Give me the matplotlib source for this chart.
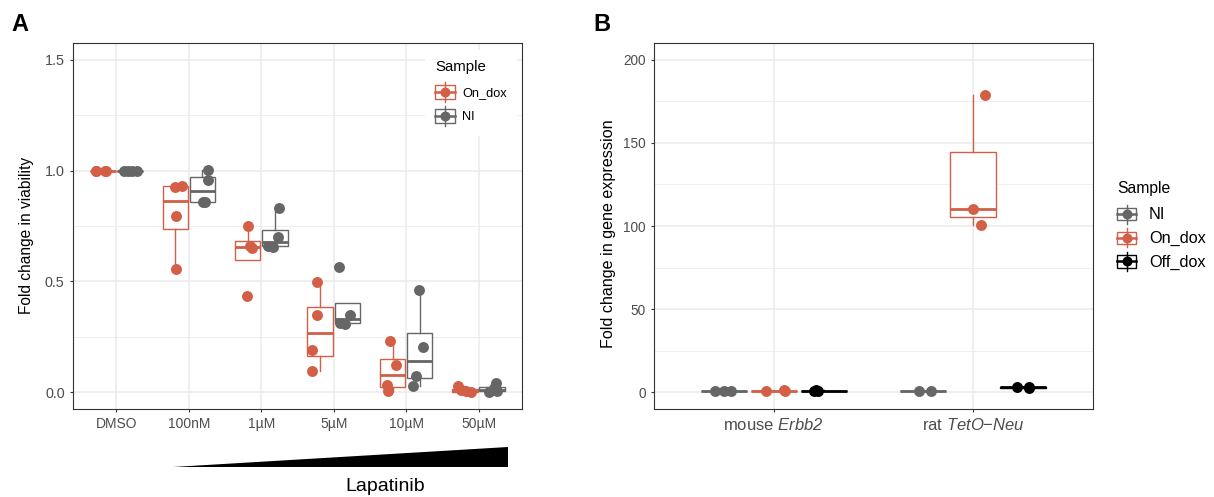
import matplotlib
matplotlib.use('Agg')
import matplotlib.pyplot as plt
import numpy as np
from matplotlib.legend_handler import HandlerBase
from matplotlib.patches import Rectangle, Polygon
from matplotlib.lines import Line2D
from matplotlib.ticker import MultipleLocator

plt.rcParams['font.family'] = ['Liberation Sans', 'DejaVu Sans']
plt.rcParams['mathtext.fontset'] = 'custom'
plt.rcParams['mathtext.rm'] = 'Liberation Sans:italic'
plt.rcParams['mathtext.it'] = 'Liberation Sans:italic'

# ---------------- data ----------------
doses = ['DMSO', '100nM', '1µM', '5µM', '10µM', '50µM']
viab_on_dox = [[1.0, 1.0, 1.0, 1.0],
               [0.557, 0.795, 0.928, 0.932],
               [0.434, 0.650, 0.660, 0.750],
               [0.095, 0.189, 0.348, 0.497],
               [0.006, 0.033, 0.125, 0.232],
               [0.000, 0.004, 0.012, 0.028]]
viab_ni = [[1.0, 1.0, 1.0, 1.0],
           [0.858, 0.858, 0.958, 1.003],
           [0.655, 0.660, 0.700, 0.832],
           [0.310, 0.312, 0.348, 0.564],
           [0.028, 0.075, 0.204, 0.461],
           [0.003, 0.005, 0.020, 0.040]]

genes = ['mouse $\\mathit{Erbb2}$', 'rat $\\mathit{TetO}$\u2212$\\mathit{Neu}$']
expr_ni = [[0.9, 1.0, 1.1], [0.8, 1.1]]
expr_on_dox = [[0.8, 1.0, 1.2], [100.5, 110.2, 178.8]]
expr_off_dox = [[0.7, 1.0, 1.2], [2.4, 3.0, 3.4]]

# ---------------- style / layout ----------------
RED = '#D35F46'
GREY = '#666666'
BLACK = '#000000'

# horizontal jitter of points (category units), style only
jit_a_on = [[-0.10, -0.09, 0.03, 0.04], [0.01, 0.01, 0.0, 0.09], [-0.01, 0.06, 0.03, 0.0],
            [-0.11, -0.11, -0.05, -0.05], [-0.06, -0.08, 0.05, -0.03], [0.08, 0.02, -0.05, -0.10]]
jit_a_ni = [[-0.09, -0.03, 0.03, 0.10], [0.01, 0.04, 0.08, 0.08], [-0.03, -0.10, 0.04, 0.06],
            [-0.03, -0.10, 0.04, -0.11], [-0.09, -0.05, 0.05, -0.01], [-0.04, 0.07, 0.03, 0.06]]
jit_b_ni = [[-0.045, 0.0, 0.035], [-0.02, 0.04]]
jit_b_on = [[-0.037, 0.055, 0.05], [0.04, 0.0, 0.057]]
jit_b_off = [[-0.05, -0.03, -0.04], [0.03, 0.03, -0.03]]

W, H = 1214, 497
fig = plt.figure(figsize=(W / 100, H / 100), dpi=100)
ax1 = fig.add_axes([73 / W, 1 - 409 / H, 449 / W, 366 / H])
ax2 = fig.add_axes([654 / W, 1 - 409 / H, 439 / W, 366 / H])

PT_S = 62


def draw_group(ax, pos, values, jitter, color, width):
    ax.boxplot(values, positions=[pos], widths=width, whis=1.5, showfliers=False,
               showcaps=False, patch_artist=True, manage_ticks=False, zorder=2,
               boxprops=dict(facecolor='white', edgecolor=color, linewidth=1.0),
               whiskerprops=dict(color=color, linewidth=1.0),
               medianprops=dict(color=color, linewidth=2.0))
    ax.scatter(pos + np.asarray(jitter), values, s=PT_S, color=color, zorder=3, linewidths=0)


def style_axes(ax, ytick_size, xtick_size):
    for sp in ax.spines.values():
        sp.set_color('#333333')
        sp.set_linewidth(0.8)
        sp.set_zorder(6)
    ax.set_axisbelow(True)
    ax.grid(which='major', color='#EBEBEB', lw=1.1)
    ax.grid(which='minor', axis='y', color='#EBEBEB', lw=0.55)
    ax.tick_params(which='major', length=2.5, width=0.8, color='#333333', labelcolor='#4D4D4D')
    ax.tick_params(axis='y', labelsize=ytick_size, pad=3.5)
    ax.tick_params(axis='x', labelsize=xtick_size, pad=3.5)
    ax.tick_params(which='minor', length=0)


# ---------------- Panel A ----------------
xa = np.arange(1, len(doses) + 1)
DA = 0.1875
for i in range(len(doses)):
    draw_group(ax1, xa[i] - DA, viab_on_dox[i], jit_a_on[i], RED, 0.35)
    draw_group(ax1, xa[i] + DA, viab_ni[i], jit_a_ni[i], GREY, 0.35)

ax1.set_xlim(0.4, len(doses) + 0.6)
ax1.set_ylim(-0.075, 1.575)
ax1.set_xticks(xa)
ax1.set_xticklabels(doses)
ax1.set_yticks([0, 0.5, 1.0, 1.5])
ax1.set_yticklabels(['0.0', '0.5', '1.0', '1.5'])
ax1.yaxis.set_minor_locator(MultipleLocator(0.25))
style_axes(ax1, 10.4, 10)
ax1.set_ylabel('Fold change in viability', fontsize=11.2)
ax1.yaxis.set_label_coords(-0.087, 0.475)

# ---------------- Panel B ----------------
xb = np.arange(1, len(genes) + 1)
DB = 0.25
for i in range(len(genes)):
    draw_group(ax2, xb[i] - DB, expr_ni[i], jit_b_ni[i], GREY, 0.23)
    draw_group(ax2, xb[i], expr_on_dox[i], jit_b_on[i], RED, 0.23)
    draw_group(ax2, xb[i] + DB, expr_off_dox[i], jit_b_off[i], BLACK, 0.23)

ax2.set_xlim(0.4, len(genes) + 0.6)
ax2.set_ylim(-10, 210)
ax2.set_xticks(xb)
ax2.set_xticklabels(genes)
ax2.set_yticks([0, 50, 100, 150, 200])
ax2.yaxis.set_minor_locator(MultipleLocator(25))
style_axes(ax2, 9.8, 12)
ax2.set_ylabel('Fold change in gene expression', fontsize=11.6)
ax2.yaxis.set_label_coords(-0.0866, 0.48)


# ---------------- legends ----------------
class BoxKeyHandler(HandlerBase):
    def __init__(self, box_frac=0.7, msize=7.2, lw=1.0):
        super().__init__()
        self.box_frac = box_frac
        self.msize = msize
        self.lw = lw

    def create_artists(self, legend, orig_handle, xdescent, ydescent, width, height, fontsize, trans):
        c = orig_handle.get_color()
        x0, y0 = -xdescent, -ydescent
        cx, cy = x0 + width / 2, y0 + height / 2
        bh = height * self.box_frac
        rect = Rectangle((x0, cy - bh / 2), width, bh, facecolor='white', edgecolor=c,
                         lw=self.lw, transform=trans)
        vline = Line2D([cx, cx], [y0, y0 + height], color=c, lw=self.lw, transform=trans)
        hline = Line2D([x0, x0 + width], [cy, cy], color=c, lw=self.lw * 1.8, transform=trans)
        dot = Line2D([cx], [cy], marker='o', markersize=self.msize, color=c,
                     markeredgewidth=0, linestyle='none', transform=trans)
        return [rect, vline, hline, dot]


legA = ax1.legend(handles=[Line2D([], [], color=RED), Line2D([], [], color=GREY)],
                  labels=['On_dox', 'NI'], title='Sample',
                  handler_map={Line2D: BoxKeyHandler()},
                  loc='upper left', bbox_to_anchor=(425 / W, 1 - 50 / H),
                  bbox_transform=fig.transFigure, fontsize=9.2, title_fontsize=10.8,
                  handlelength=1.56, handleheight=2.03, labelspacing=0.29,
                  handletextpad=0.55, borderpad=0.8, borderaxespad=0.0,
                  frameon=True, fancybox=False,
                  edgecolor='none', facecolor='white', framealpha=1, alignment='left')
legA.set_zorder(5)
legA._legend_box.sep = 5.5

legB = ax2.legend(handles=[Line2D([], [], color=GREY), Line2D([], [], color=RED),
                           Line2D([], [], color=BLACK)],
                  labels=['NI', 'On_dox', 'Off_dox'], title='Sample',
                  handler_map={Line2D: BoxKeyHandler(box_frac=0.65)},
                  loc='upper left', bbox_to_anchor=(1117 / W, 1 - 180.5 / H),
                  bbox_transform=fig.transFigure, fontsize=11.7, title_fontsize=11.3,
                  handlelength=1.17, handleheight=1.42, labelspacing=0.29,
                  handletextpad=0.8, borderpad=0.0, borderaxespad=0.0,
                  frameon=False, alignment='left')
legB._legend_box.sep = 6.5

# ---------------- annotations ----------------
wedge = Polygon([(173 / W, 1 - 467 / H), (508 / W, 1 - 467 / H), (508 / W, 1 - 447 / H)],
                closed=True, facecolor='black', edgecolor='none', transform=fig.transFigure)
fig.add_artist(wedge)
fig.text(385 / W, 1 - 490.7 / H, 'Lapatinib', ha='center', va='baseline', fontsize=14)
fig.text(11 / W, 1 - 31 / H, 'A', ha='left', va='baseline', fontsize=17, fontweight='bold')
fig.text(593 / W, 1 - 31 / H, 'B', ha='left', va='baseline', fontsize=17, fontweight='bold')

fig.savefig('out.png', dpi=100)
